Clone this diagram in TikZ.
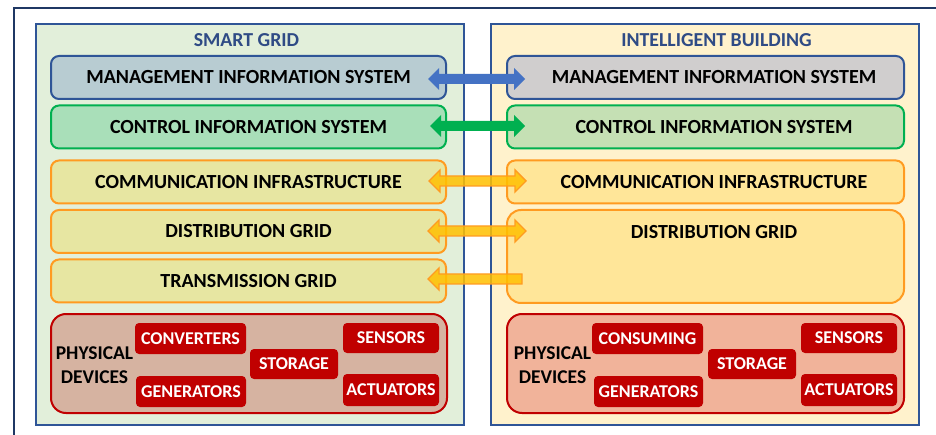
\documentclass[tikz,border=0pt]{standalone}
\usepackage{fontspec}
\setmainfont{Carlito}
\usetikzlibrary{calc}
\definecolor{navy}{HTML}{1F3864}
\definecolor{pborder}{HTML}{2F5597}
\definecolor{titleblue}{HTML}{2F4B85}
\definecolor{sgfill}{HTML}{E2EFDA}
\definecolor{ibfill}{HTML}{FFF2CC}
\definecolor{misL}{HTML}{B8CCD2}
\definecolor{misR}{HTML}{D0CECE}
\definecolor{cisL}{HTML}{A9DFB9}
\definecolor{cisR}{HTML}{C5E0B4}
\definecolor{orL}{HTML}{E7E6A2}
\definecolor{orR}{HTML}{FFE699}
\definecolor{orline}{HTML}{FF9B21}
\definecolor{physL}{HTML}{D6B3A1}
\definecolor{physR}{HTML}{F1B39A}
\definecolor{devred}{HTML}{C00000}
\definecolor{arblue}{HTML}{4472C4}
\definecolor{argreen}{HTML}{00B050}
\definecolor{aryellow}{HTML}{FFC000}
\tikzset{
  panel/.style={draw=pborder, line width=2.2pt, anchor=north west, inner sep=0pt},
  rowbox/.style={rounded corners=8pt, line width=2pt, minimum width=395pt, minimum height=43pt, inner sep=0pt},
  rowtext/.style={font=\fontsize{20}{23}\selectfont\bfseries, text=black, inner sep=0pt},
  titletext/.style={font=\fontsize{19.8}{23}\selectfont\bfseries, text=titleblue, inner sep=0pt},
  physbox/.style={rounded corners=15pt, line width=2pt, draw=devred, minimum width=396pt, minimum height=99pt, inner sep=0pt},
  dev/.style={fill=devred, rounded corners=4pt, text=white, font=\fontsize{18}{21}\selectfont\bfseries, minimum height=31pt, inner sep=0pt},
  physlabel/.style={font=\fontsize{19.5}{24}\selectfont\bfseries, align=center, inner sep=0pt},
  arrblue/.style={fill=arblue, draw=none},
  arrgreen/.style={fill=argreen, draw=none},
  arrorange/.style={fill=aryellow, fill opacity=0.85, draw=orline, line width=1.4pt, line join=miter}
}
\newcommand{\dblarr}[3]{%
  \path[#3] let \p1=(#1), \p2=(#2) in
    (\x1,\y1) -- (\x1+11pt,\y1+11pt) -- (\x1+11pt,\y1+5pt) -- (\x2-11pt,\y1+5pt) -- (\x2-11pt,\y1+11pt)
    -- (\x2,\y1) -- (\x2-11pt,\y1-11pt) -- (\x2-11pt,\y1-5pt) -- (\x1+11pt,\y1-5pt) -- (\x1+11pt,\y1-11pt) -- cycle;}
\newcommand{\sglarr}[3]{%
  \path[#3] let \p1=(#1), \p2=(#2) in
    (\x1,\y1) -- (\x1+11pt,\y1+11pt) -- (\x1+11pt,\y1+5pt) -- (\x2,\y1+5pt)
    -- (\x2,\y1-5pt) -- (\x1+11pt,\y1-5pt) -- (\x1+11pt,\y1-11pt) -- cycle;}
\begin{document}
\begin{tikzpicture}[x=1pt,y=-1pt]
\useasboundingbox (0,0) rectangle (936,435);
\fill[white] (0,0) rectangle (936,435);
% outer frame
\draw[navy, line width=2pt] (14,440) -- (14,8) -- (940,8);
% panels
\node[panel, fill=sgfill, minimum width=428pt, minimum height=401pt] (sg) at (35,23) {};
\node[panel, fill=ibfill, minimum width=428pt, minimum height=401pt] (ib) at (490,23) {};
\node[titletext] (sgt) at (246.5,40) {SMART GRID};
\node[titletext] (ibt) at (716.5,40) {INTELLIGENT BUILDING};
% left rows
\node[rowbox, draw=pborder, fill=misL] (misl) at (248.5,77.5) {};
\node[rowtext] at (misl) {MANAGEMENT INFORMATION SYSTEM};
\node[rowbox, draw=argreen, fill=cisL] (cisl) at (248.5,127) {};
\node[rowtext] at (cisl) {CONTROL INFORMATION SYSTEM};
\node[rowbox, draw=orline, fill=orL] (coml) at (248.5,182) {};
\node[rowtext] at (coml) {COMMUNICATION INFRASTRUCTURE};
\node[rowbox, draw=orline, fill=orL] (disl) at (248.5,231.5) {};
\node[rowtext] at (disl) {DISTRIBUTION GRID};
\node[rowbox, draw=orline, fill=orL] (trl) at (248.5,281) {};
\node[rowtext] at (trl) {TRANSMISSION GRID};
% right rows
\node[rowbox, draw=pborder, fill=misR, minimum width=397pt] (misr) at (705.5,77.5) {};
\node[rowtext] at (714,77.5) {MANAGEMENT INFORMATION SYSTEM};
\node[rowbox, draw=argreen, fill=cisR, minimum width=397pt] (cisr) at (705.5,127) {};
\node[rowtext] at (714,127) {CONTROL INFORMATION SYSTEM};
\node[rowbox, draw=orline, fill=orR, minimum width=397pt] (comr) at (705.5,182) {};
\node[rowtext] at (714,182) {COMMUNICATION INFRASTRUCTURE};
\node[rowbox, draw=orline, fill=orR, minimum width=397pt, minimum height=93pt, rounded corners=14pt] (disr) at (705.5,256.5) {};
\node[rowtext] at (714,232) {DISTRIBUTION GRID};
% physical devices left
\node[physbox, fill=physL] (pdl) at (249,363.5) {};
\node[physlabel] (pdlt) at (94.5,365) {PHYSICAL\\DEVICES};
\node[dev, minimum width=111pt] (conv) at (190.5,338.5) {CONVERTERS};
\node[dev, minimum width=110pt] (genl) at (191,391.5) {GENERATORS};
\node[dev, minimum width=88pt, minimum height=30pt] (storl) at (294,364) {STORAGE};
\node[dev, minimum width=96pt, minimum height=30pt] (sensl) at (391,338) {SENSORS};
\node[dev, minimum width=96pt, minimum height=32pt] (actl) at (391,390) {ACTUATORS};
% physical devices right
\node[physbox, fill=physR, minimum width=397pt] (pdr) at (705.5,363.5) {};
\node[physlabel] (pdrt) at (552.5,365) {PHYSICAL\\DEVICES};
\node[dev, minimum width=111pt] (cons) at (647.5,338.5) {CONSUMING};
\node[dev, minimum width=109pt] (genr) at (648.5,391.5) {GENERATORS};
\node[dev, minimum width=88pt, minimum height=30pt] (storr) at (752,364) {STORAGE};
\node[dev, minimum width=96pt, minimum height=30pt] (sensr) at (849,338) {SENSORS};
\node[dev, minimum width=96pt, minimum height=32pt] (actr) at (849,390) {ACTUATORS};
% arrows
\coordinate (a1l) at ($(misl.east)+(-19,1.5)$);
\coordinate (a1r) at ($(misr.west)+(19,1.5)$);
\coordinate (a2l) at ($(cisl.east)+(-17,-1)$);
\coordinate (a2r) at ($(cisr.west)+(19,-1)$);
\coordinate (a3l) at ($(coml.east)+(-18,-1)$);
\coordinate (a3r) at ($(comr.west)+(20,-1)$);
\coordinate (a4l) at ($(disl.east)+(-19,-0.5)$);
\coordinate (a4r) at ($(disr.west |- disl.east)+(20,-0.5)$);
\coordinate (a5l) at ($(trl.east)+(-19,-2)$);
\coordinate (a5r) at ($(disr.west |- trl.east)+(16,-2)$);
\dblarr{a1l}{a1r}{arrblue}
\dblarr{a2l}{a2r}{arrgreen}
\dblarr{a3l}{a3r}{arrorange}
\dblarr{a4l}{a4r}{arrorange}
\sglarr{a5l}{a5r}{arrorange}
\end{tikzpicture}
\end{document}
